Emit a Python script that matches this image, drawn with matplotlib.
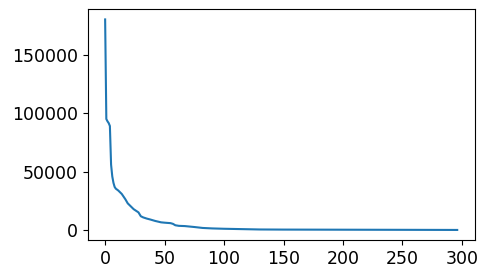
import matplotlib
matplotlib.use("Agg")
import matplotlib.pyplot as plt

# rank positions and values
ranks = [0, 1, 2, 3, 4, 5, 6, 7, 8, 9, 11, 14, 17, 19, 21, 24, 28, 30, 32,
         35, 38, 42, 47, 50, 55, 57, 59, 62, 67, 75, 82, 90, 100, 110, 120,
         130, 150, 200, 250, 296]
values = [180000, 95000, 93000, 91500, 89000, 56000, 46000, 40500, 37000,
          35500, 34000, 31000, 26500, 23000, 21000, 18000, 15300, 12000,
          11000, 10000, 9200, 8000, 6800, 6500, 6100, 5500, 4300, 3800, 3600,
          2800, 2000, 1600, 1300, 1100, 900, 700, 600, 500, 400, 300]

fig, ax = plt.subplots(figsize=(4.89, 2.78), dpi=100)
fig.subplots_adjust(left=0.179, right=0.971, bottom=0.135, top=0.968)
ax.plot(ranks, values)
ax.tick_params(labelsize=12.5)
fig.savefig("out.png")
